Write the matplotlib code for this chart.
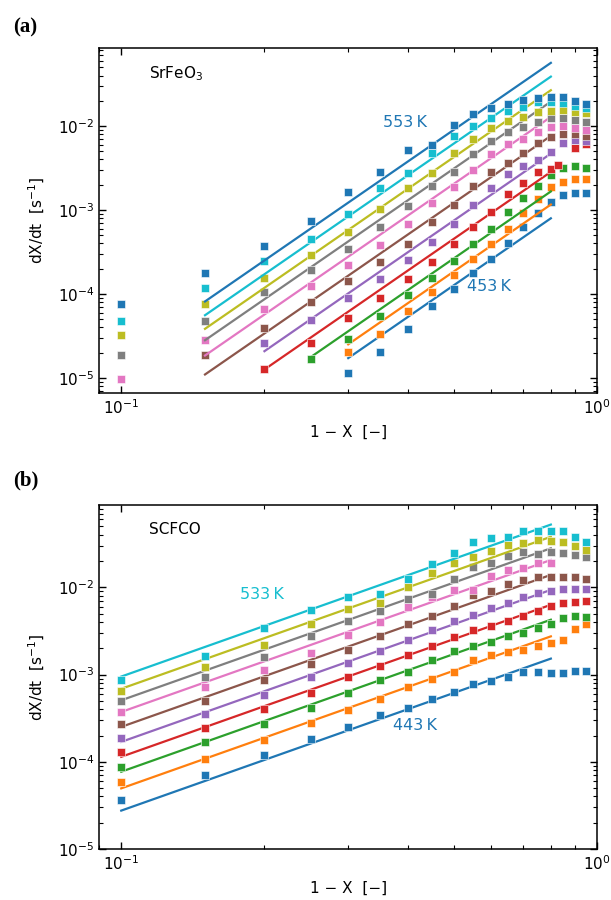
import numpy as np
import matplotlib
matplotlib.use("Agg")
import matplotlib.pyplot as plt
from matplotlib.ticker import NullFormatter, LogLocator

# ---------------- data: panel (a) SrFeO3 ----------------
xa = [0.10, 0.15, 0.20, 0.25, 0.30, 0.35, 0.40, 0.45, 0.50,
      0.55, 0.60, 0.65, 0.70, 0.75, 0.80, 0.85, 0.90, 0.95]
xa_483 = [0.10, 0.15, 0.20, 0.25, 0.30, 0.35, 0.40, 0.45, 0.50,
          0.55, 0.60, 0.65, 0.70, 0.75, 0.80, 0.83, 0.90, 0.95]
N = None
a453 = [N, N, N, N, 1.15e-5, 2.04e-5, 3.86e-5, 7.1e-5, 1.16e-4,
        1.8e-4, 2.64e-4, 4.08e-4, 6.2e-4, 9.2e-4, 1.26e-3, 1.51e-3, 1.58e-3, 1.58e-3]
a463 = [N, N, N, N, 2.04e-5, 3.3e-5, 6.2e-5, 1.06e-4, 1.68e-4,
        2.59e-4, 3.9e-4, 6.0e-4, 9.3e-4, 1.35e-3, 1.9e-3, 2.17e-3, 2.34e-3, 2.34e-3]
a473 = [N, N, N, 1.68e-5, 2.94e-5, 5.5e-5, 9.6e-5, 1.55e-4, 2.47e-4,
        3.9e-4, 5.9e-4, 9.4e-4, 1.38e-3, 1.95e-3, 2.61e-3, 3.13e-3, 3.3e-3, 3.2e-3]
a483 = [N, N, 1.29e-5, 2.6e-5, 5.1e-5, 9.0e-5, 1.51e-4, 2.42e-4, 3.9e-4,
        6.2e-4, 9.55e-4, 1.54e-3, 2.11e-3, 2.86e-3, 3.08e-3, 3.48e-3, 5.55e-3, 6.07e-3]
a493 = [N, N, 2.6e-5, 4.9e-5, 8.95e-5, 1.51e-4, 2.52e-4, 4.16e-4, 6.9e-4,
        1.15e-3, 1.81e-3, 2.66e-3, 3.37e-3, 3.9e-3, 4.85e-3, 6.3e-3, 6.8e-3, 6.6e-3]
a503 = [N, 1.85e-5, 3.94e-5, 8.1e-5, 1.42e-4, 2.42e-4, 3.94e-4, 7.1e-4, 1.15e-3,
        1.93e-3, 2.8e-3, 3.66e-3, 4.73e-3, 6.2e-3, 7.5e-3, 8.0e-3, 8.0e-3, 7.7e-3]
a513 = [9.8e-6, 2.8e-5, 6.6e-5, 1.26e-4, 2.2e-4, 3.83e-4, 6.8e-4, 1.22e-3, 1.88e-3,
        3.0e-3, 4.6e-3, 6.05e-3, 7.0e-3, 8.6e-3, 9.8e-3, 1.01e-2, 9.6e-3, 9.1e-3]
a523 = [1.86e-5, 4.7e-5, 1.05e-4, 1.93e-4, 3.47e-4, 6.2e-4, 1.13e-3, 1.95e-3, 2.8e-3,
        4.7e-3, 6.6e-3, 8.4e-3, 9.8e-3, 1.12e-2, 1.24e-2, 1.26e-2, 1.18e-2, 1.12e-2]
a533 = [3.25e-5, 7.6e-5, 1.56e-4, 2.9e-4, 5.4e-4, 1.02e-3, 1.85e-3, 2.73e-3, 4.8e-3,
        7.1e-3, 9.4e-3, 1.15e-2, 1.29e-2, 1.48e-2, 1.51e-2, 1.55e-2, 1.48e-2, 1.42e-2]
a543 = [4.8e-5, 1.18e-4, 2.45e-4, 4.5e-4, 8.95e-4, 1.81e-3, 2.73e-3, 4.8e-3, 7.7e-3,
        1.01e-2, 1.26e-2, 1.51e-2, 1.7e-2, 1.91e-2, 1.91e-2, 1.86e-2, 1.75e-2, 1.63e-2]
a553 = [7.6e-5, 1.78e-4, 3.7e-4, 7.4e-4, 1.64e-3, 2.86e-3, 5.2e-3, 6.0e-3, 1.03e-2,
        1.38e-2, 1.65e-2, 1.83e-2, 2.04e-2, 2.14e-2, 2.23e-2, 2.23e-2, 2.0e-2, 1.81e-2]
temps_a = [453, 463, 473, 483, 493, 503, 513, 523, 533, 543, 553]
# power-law fits  dX/dt = k * (1-X)^n
fit_n_a = 3.91
fit_logk_a = [-2.72, -2.556, -2.40, -2.167, -1.949, -1.738, -1.512, -1.330, -1.194, -1.032, -0.868]
fit_xmin_a = [0.30, 0.30, 0.25, 0.20, 0.20, 0.15, 0.15, 0.15, 0.15, 0.15, 0.15]
fit_xmax_a = 0.80

# ---------------- data: panel (b) SCFCO ----------------
xb = xa
b443 = [3.66e-5, 7.1e-5, 1.19e-4, 1.81e-4, 2.52e-4, 3.4e-4, 4.16e-4, 5.27e-4, 6.34e-4,
        7.8e-4, 8.4e-4, 9.4e-4, 1.06e-3, 1.06e-3, 1.03e-3, 1.05e-3, 1.09e-3, 1.09e-3]
b453 = [5.9e-5, 1.07e-4, 1.77e-4, 2.76e-4, 3.9e-4, 5.18e-4, 7.22e-4, 8.8e-4, 1.08e-3,
        1.45e-3, 1.66e-3, 1.82e-3, 1.93e-3, 2.11e-3, 2.3e-3, 2.51e-3, 3.36e-3, 3.79e-3]
b463 = [8.8e-5, 1.7e-4, 2.73e-4, 4.16e-4, 6.18e-4, 8.6e-4, 1.06e-3, 1.47e-3, 1.85e-3,
        2.1e-3, 2.35e-3, 2.74e-3, 3.0e-3, 3.45e-3, 3.79e-3, 4.44e-3, 4.7e-3, 4.6e-3]
b473 = [1.31e-4, 2.42e-4, 4.06e-4, 6.18e-4, 9.3e-4, 1.27e-3, 1.66e-3, 2.15e-3, 2.72e-3,
        3.27e-3, 3.63e-3, 4.06e-3, 4.64e-3, 5.3e-3, 6.1e-3, 6.59e-3, 6.88e-3, 7.0e-3]
b483 = [1.89e-4, 3.55e-4, 5.9e-4, 9.3e-4, 1.36e-3, 1.85e-3, 2.51e-3, 3.21e-3, 4.06e-3,
        4.85e-3, 5.78e-3, 6.59e-3, 7.72e-3, 8.58e-3, 9.2e-3, 9.6e-3, 9.7e-3, 9.7e-3]
b493 = [2.68e-4, 4.96e-4, 8.6e-4, 1.33e-3, 1.93e-3, 2.74e-3, 3.79e-3, 4.75e-3, 6.15e-3,
        8.2e-3, 9.2e-3, 1.09e-2, 1.2e-2, 1.3e-2, 1.31e-2, 1.31e-2, 1.3e-2, 1.24e-2]
b503 = [3.71e-4, 7.2e-4, 1.14e-3, 1.77e-3, 2.81e-3, 3.96e-3, 5.93e-3, 7.72e-3, 9.4e-3,
        9.36e-3, 1.35e-2, 1.58e-2, 1.66e-2, 1.92e-2, 1.92e-2, N, N, N]
b513 = [4.96e-4, 9.4e-4, 1.58e-3, 2.74e-3, 4.14e-3, 5.3e-3, 7.3e-3, 8.3e-3, 1.26e-2,
        1.69e-2, 1.89e-2, 2.31e-2, 2.52e-2, 2.39e-2, 2.57e-2, 2.5e-2, 2.35e-2, 2.25e-2]
b523 = [6.56e-4, 1.21e-3, 2.16e-3, 3.79e-3, 5.68e-3, 6.6e-3, 1.02e-2, 1.47e-2, 1.92e-2,
        2.25e-2, 2.61e-2, 3.06e-2, 3.2e-2, 3.49e-2, 3.4e-2, 3.28e-2, 3.0e-2, 2.68e-2]
b533 = [8.77e-4, 1.62e-3, 3.41e-3, 5.53e-3, 7.7e-3, 8.4e-3, 1.24e-2, 1.85e-2, 2.5e-2,
        3.27e-2, 3.71e-2, 3.75e-2, 4.4e-2, 4.4e-2, 4.4e-2, 4.46e-2, 3.76e-2, 3.3e-2]
temps_b = [443, 453, 463, 473, 483, 493, 503, 513, 523, 533]
fit_n_b = 1.93
fit_logk_b = [-2.63, -2.375, -2.184, -2.013, -1.842, -1.67, -1.499, -1.365, -1.233, -1.093]
fit_xmin_b = 0.10
fit_xmax_b = 0.80

colors = ["C0", "C1", "C2", "C3", "C4", "C5", "C6", "C7", "C8", "C9", "C0"]

series_a = [(xa, a453), (xa, a463), (xa, a473), (xa_483, a483), (xa, a493), (xa, a503),
            (xa, a513), (xa, a523), (xa, a533), (xa, a543), (xa, a553)]
series_b = [b443, b453, b463, b473, b483, b493, b503, b513, b523, b533]

plt.rcParams["font.family"] = ["DejaVu Sans"]
plt.rcParams["mathtext.fontset"] = "dejavusans"

fig = plt.figure(figsize=(6.11, 9.0), dpi=100)
ax1 = fig.add_axes([0.1628, 0.5633, 0.8142, 0.3833])
ax2 = fig.add_axes([0.1628, 0.0567, 0.8142, 0.3822])

ms = 6.0
lw = 1.6


def to_arr(v):
    return np.array([np.nan if q is None else q for q in v], dtype=float)


for i, (xs, ys) in enumerate(series_a):
    c = colors[i]
    xl = np.linspace(fit_xmin_a[i], fit_xmax_a, 50)
    ax1.plot(xl, 10 ** fit_logk_a[i] * xl ** fit_n_a, color=c, lw=lw)
    ax1.plot(xs, to_arr(ys), ls="none", marker="s", ms=ms, color=c, mec="white", mew=0.4)

for i, ys in enumerate(series_b):
    c = colors[i]
    xl = np.linspace(fit_xmin_b, fit_xmax_b, 50)
    ax2.plot(xl, 10 ** fit_logk_b[i] * xl ** fit_n_b, color=c, lw=lw)
    ax2.plot(xb, to_arr(ys), ls="none", marker="s", ms=ms, color=c, mec="white", mew=0.4)

for ax, ylim in ((ax1, (6.6e-6, 0.085)), (ax2, (1.0e-5, 0.088))):
    ax.set_xscale("log")
    ax.set_yscale("log")
    ax.set_xlim(0.09, 1.0)
    ax.set_ylim(*ylim)
    ax.xaxis.set_minor_formatter(NullFormatter())
    ax.yaxis.set_minor_formatter(NullFormatter())
    ax.yaxis.set_major_locator(LogLocator(base=10, numticks=10))
    ax.yaxis.set_minor_locator(LogLocator(base=10, subs=np.arange(2, 10), numticks=20))
    ax.tick_params(which="both", direction="in", top=True, right=True, labelsize=11)
    ax.tick_params(which="major", length=5, width=1)
    ax.tick_params(which="minor", length=3, width=0.8)
    ax.set_xlabel("1 − X  [−]", fontsize=11, labelpad=6)
    ax.set_ylabel("dX/dt  [s$^{-1}$]", fontsize=11, labelpad=8)
    for s in ax.spines.values():
        s.set_linewidth(1.1)

ax1.text(0.10, 0.925, "SrFeO$_3$", transform=ax1.transAxes, fontsize=11, va="center")
ax1.text(0.57, 0.785, "553\u2009K", transform=ax1.transAxes, fontsize=11.5, va="center", color="C0")
ax1.text(0.739, 0.31, "453\u2009K", transform=ax1.transAxes, fontsize=11.5, va="center", color="C0")
ax2.text(0.10, 0.93, "SCFCO", transform=ax2.transAxes, fontsize=11, va="center")
ax2.text(0.282, 0.741, "533\u2009K", transform=ax2.transAxes, fontsize=11.5, va="center", color="C9")
ax2.text(0.59, 0.358, "443\u2009K", transform=ax2.transAxes, fontsize=11.5, va="center", color="C0")

fig.text(0.022, 0.970, "(a)", fontsize=15, fontweight="bold", family="Liberation Serif", va="center")
fig.text(0.022, 0.4656, "(b)", fontsize=15, fontweight="bold", family="Liberation Serif", va="center")

fig.savefig("out.png", dpi=100)
